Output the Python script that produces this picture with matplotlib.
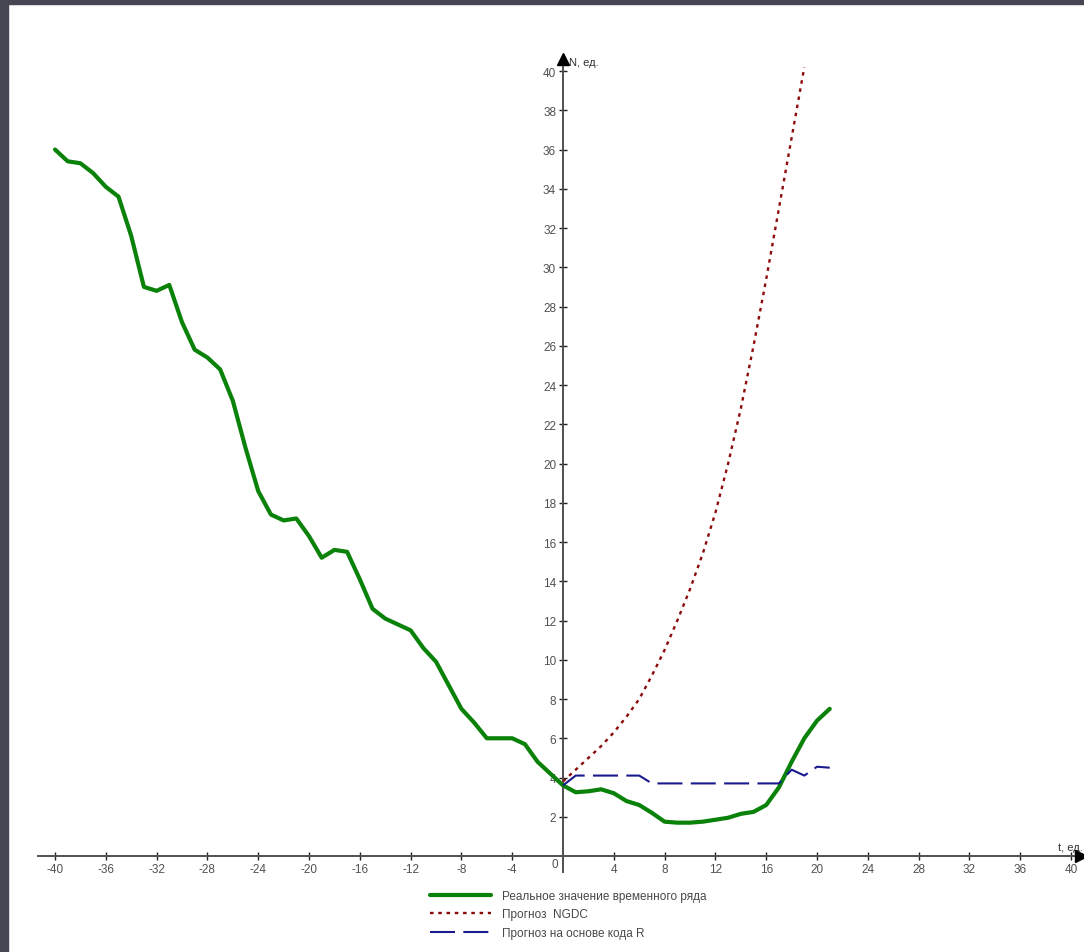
import matplotlib
matplotlib.use("Agg")
import matplotlib.pyplot as plt
from matplotlib.patches import Rectangle
import numpy as np

plt.rcParams['font.family'] = ['Liberation Sans Narrow', 'Liberation Sans', 'DejaVu Sans']

# ---- data ----
t_real = list(range(-40, 22))
real_values = [36.0, 35.4, 35.3, 34.8, 34.1, 33.6, 31.6, 29.0, 28.8, 29.1,
               27.2, 25.8, 25.4, 24.8, 23.2, 20.8, 18.6, 17.4, 17.1, 17.2,
               16.3, 15.2, 15.6, 15.5, 14.1, 12.6, 12.1, 11.8, 11.5, 10.6,
               9.9, 8.7, 7.5, 6.8, 6.0, 6.0, 6.0, 5.7, 4.8, 4.2,
               3.6, 3.25, 3.3, 3.4, 3.2, 2.8, 2.6, 2.2, 1.75, 1.7,
               1.7, 1.75, 1.85, 1.95, 2.15, 2.25, 2.6, 3.5, 4.8, 6.0,
               6.9, 7.5]
t_ngdc = list(range(0, 20))
ngdc_values = [3.8, 4.4, 5.0, 5.6, 6.3, 7.1, 8.0, 9.2, 10.5, 12.0,
               13.6, 15.4, 17.5, 20.0, 22.8, 26.0, 29.4, 33.0, 36.6, 40.2]
t_r = list(range(0, 22))
r_values = [3.6, 4.1, 4.1, 4.1, 4.1, 4.1, 4.1, 3.7, 3.7, 3.7,
            3.7, 3.7, 3.7, 3.7, 3.7, 3.7, 3.7, 3.7, 4.4, 4.1,
            4.55, 4.5]
x_ticks = [v for v in range(-40, 41, 4) if v != 0]
y_ticks = list(range(2, 41, 2))
labels = ["Реальное значение временного ряда", "Прогноз  NGDC", "Прогноз на основе кода R"]

W, H = 1084, 953
fig = plt.figure(figsize=(W / 100, H / 100), dpi=100)
ax = fig.add_axes([0, 0, 1, 1])
ax.set_xlim(-44.33, 41.02)
ax.set_ylim(-4.89, 43.67)

axis_col = '#505050'
txt_col = '#505050'

l1, = ax.plot(t_real, real_values, color='#0a820a', lw=3.0, solid_joinstyle='round',
              solid_capstyle='round', zorder=3)
l2, = ax.plot(t_ngdc, ngdc_values, color='#8b0a0a', lw=1.7, dashes=(1.5, 2.0), zorder=4)
l3, = ax.plot(t_r, r_values, color='#1a1a90', lw=1.5, dashes=(12, 4), zorder=5)

for s in ['top', 'right']:
    ax.spines[s].set_visible(False)
ax.spines['left'].set_position(('data', 0))
ax.spines['bottom'].set_position(('data', 0))
ax.spines['left'].set_bounds(-0.82, 40.5)
ax.spines['bottom'].set_bounds(-41.3, 40.6)
for s in ['left', 'bottom']:
    ax.spines[s].set_color(axis_col)
    ax.spines[s].set_linewidth(1.4)

ax.set_xticks(x_ticks)
ax.set_xticklabels([str(v) for v in x_ticks])
ax.set_yticks(y_ticks)
ax.set_yticklabels([str(v) for v in y_ticks])
ax.tick_params(axis='both', direction='inout', length=6, width=1.0, color='#202020',
               labelsize=8.5, labelcolor=txt_col)
ax.tick_params(axis='x', pad=2)
ax.tick_params(axis='y', pad=2)

# origin label
ax.text(-0.35, -0.1, "0", ha='right', va='top', fontsize=8.5, color=txt_col)

# arrows
ax.plot([40.8], [0], marker='>', markersize=8, color='black', clip_on=False, zorder=6)
ax.plot([0], [40.6], marker='^', markersize=8, color='black', clip_on=False, zorder=6)
ax.text(0.5, 40.45, "N, ед.", ha='left', va='center', fontsize=8, color='#303030')
ax.text(40.95, 0.2, "t, ед.", ha='right', va='bottom', fontsize=8, color='#303030')

leg = ax.legend([l1, l2, l3], labels, loc='upper left',
                bbox_to_anchor=(430 / W, 1 - 891 / H), bbox_transform=fig.transFigure,
                frameon=False, fontsize=8.5, handlelength=5.2, handletextpad=0.9,
                labelspacing=0.55, borderpad=0, borderaxespad=0)
for t in leg.get_texts():
    t.set_color('#484848')

# dark frame strips
frame_col = '#464653'
fig.patches.append(Rectangle((0, 1 - 5 / H), 1, 5 / H, transform=fig.transFigure,
                             color=frame_col, zorder=10))
fig.patches.append(Rectangle((0, 0), 8 / W, 1, transform=fig.transFigure,
                             color=frame_col, zorder=10))

fig.savefig("out.png", dpi=100)
